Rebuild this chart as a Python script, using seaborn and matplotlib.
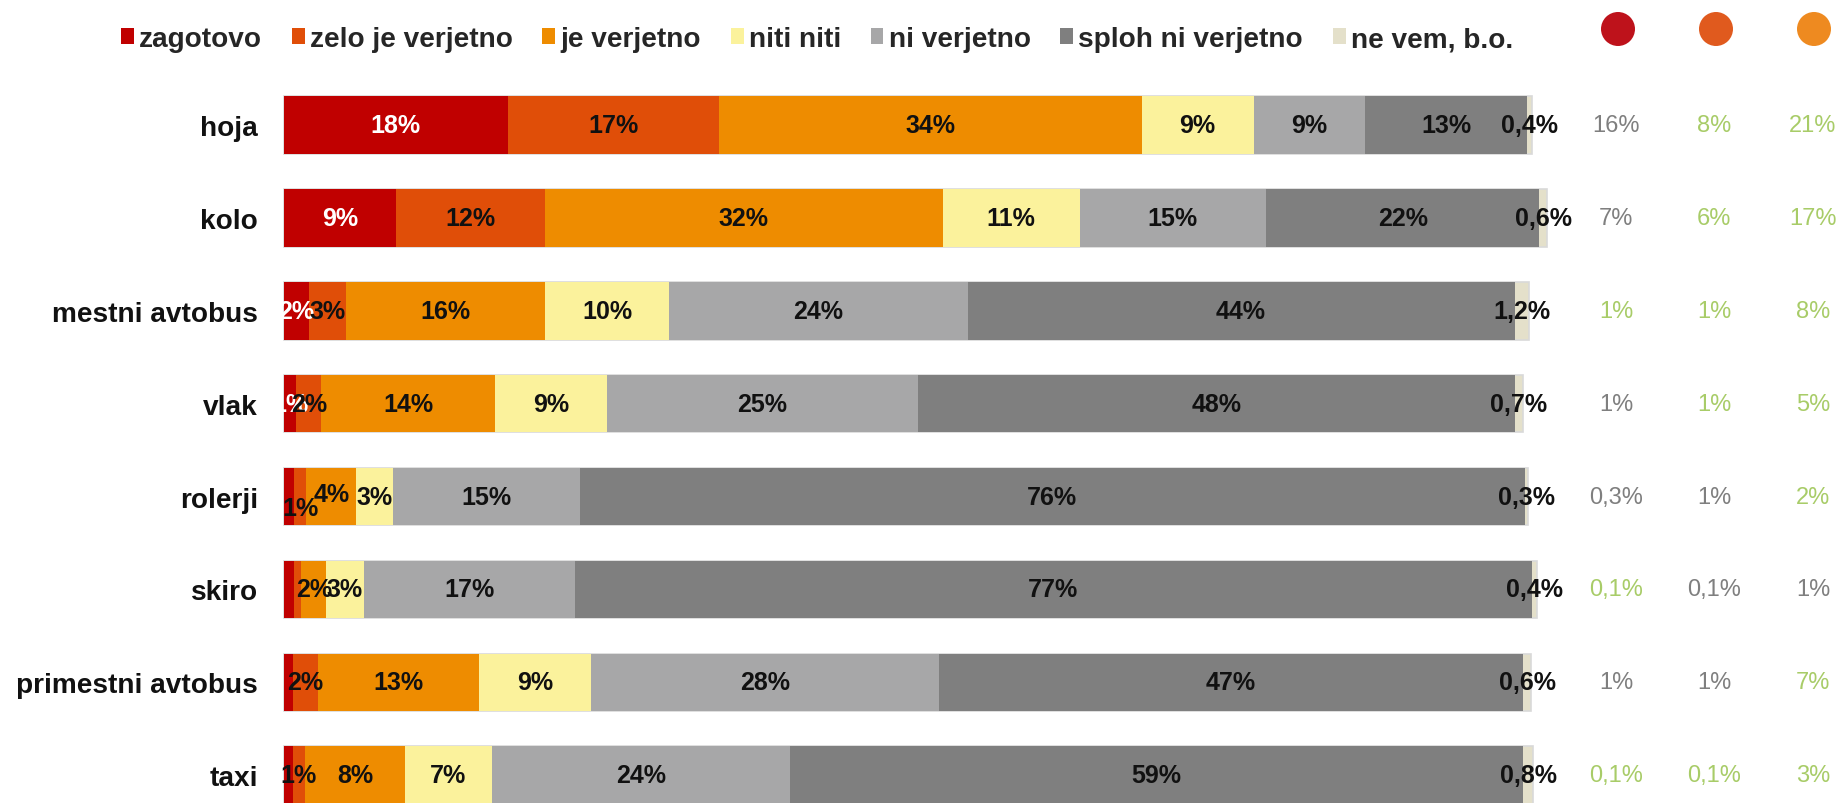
import matplotlib
matplotlib.use("Agg")
import matplotlib.pyplot as plt
import numpy as np
import pandas as pd
import seaborn as sns
from matplotlib.patches import Patch, Ellipse
from matplotlib.transforms import blended_transform_factory

# ---- data -------------------------------------------------------------
categories = ["hoja", "kolo", "mestni avtobus", "vlak", "rolerji", "skiro",
              "primestni avtobus", "taxi"]
answers = ["zagotovo", "zelo je verjetno", "je verjetno", "niti niti",
           "ni verjetno", "sploh ni verjetno", "ne vem, b.o."]

zagotovo = [18, 9, 2, 1, 0.8, 0.8, 0.7, 0.7]
zelo_je_verjetno = [17, 12, 3, 2, 1, 0.6, 2, 1]
je_verjetno = [34, 32, 16, 14, 4, 2, 13, 8]
niti_niti = [9, 11, 10, 9, 3, 3, 9, 7]
ni_verjetno = [9, 15, 24, 25, 15, 17, 28, 24]
sploh_ni_verjetno = [13, 22, 44, 48, 76, 77, 47, 59]
ne_vem = [0.4, 0.6, 1.2, 0.7, 0.3, 0.4, 0.6, 0.8]

# side columns (three subgroups) and whether each cell is highlighted
group_a = [16, 7, 1, 1, 0.3, 0.1, 1, 0.1]
group_b = [8, 6, 1, 1, 1, 0.1, 1, 0.1]
group_c = [21, 17, 8, 5, 2, 1, 7, 3]
highlight_a = [False, False, True, False, False, True, False, True]
highlight_b = [True, True, True, True, False, False, False, True]
highlight_c = [True, True, True, True, True, False, True, True]

# ---- styling ----------------------------------------------------------
colors = ["#C00000", "#E04E08", "#EE8C00", "#FBF29C", "#A7A7A8", "#7F7F7F", "#E4E0CA"]
label_colors = ["white", "#111111", "#111111", "#111111", "#111111", "#111111", "#111111"]
dot_colors = ["#BE121B", "#E05A1E", "#EE8A20"]
green = "#A8CC68"
grey_txt = "#7F7F7F"

sns.set_theme(style="white")
plt.rcParams["font.family"] = ["Liberation Sans", "DejaVu Sans"]

W, H = 1839, 804
fig = plt.figure(figsize=(W / 100, H / 100), dpi=100)
ax = fig.add_axes([284 / W, -0.0233, 1243 / W, 0.9244])

series = [zagotovo, zelo_je_verjetno, je_verjetno, niti_niti,
          ni_verjetno, sploh_ni_verjetno, ne_vem]
df = pd.DataFrame({a: s for a, s in zip(answers, series)}, index=categories)
cum = df.cumsum(axis=1)

# stacked bars: draw the cumulative totals from longest to shortest
for k in range(len(answers) - 1, -1, -1):
    sns.barplot(x=cum.iloc[:, k].values, y=categories, orient="h",
                color=colors[k], saturation=1, width=0.62, ax=ax,
                linewidth=1.2 if k == len(answers) - 1 else 0,
                edgecolor="#D9D9D9" if k == len(answers) - 1 else colors[k])

for p in ax.patches:
    p.set_clip_on(False)

def fmt(v, decimals=False):
    if decimals or v < 1:
        return f"{v:.1f}".replace(".", ",") + "%"
    return f"{v:.0f}%"

nudge = {(4, 1): 0.12, (4, 2): -0.03}
for i, cat in enumerate(categories):
    left = 0.0
    for k, a in enumerate(answers):
        v = df.loc[cat, a]
        last = k == len(answers) - 1
        if v >= 1 or last:
            ax.text(left + v / 2, i + nudge.get((i, k), 0), fmt(v, last),
                    ha="center", va="center", fontsize=18, fontweight="bold",
                    color=label_colors[k], clip_on=False)
        left += v

ax.set_xlim(0, 100)
ax.set_ylim(7.5, -0.5)
ax.set_xlabel("")
ax.set_ylabel("")
ax.set_xticks([])
ax.set_yticks(range(len(categories)))
ax.set_yticklabels(categories, fontsize=20.2, fontweight="bold", color="#111111")
ax.tick_params(axis="y", length=0, pad=18.7)
for s in ax.spines.values():
    s.set_visible(False)
ax.set_facecolor("none")

# side columns
tr = blended_transform_factory(fig.transFigure, ax.transData)
col_x = [1616 / W, 1714 / W, 1813 / W]
for cx, vals, hl in zip(col_x, [group_a, group_b, group_c],
                        [highlight_a, highlight_b, highlight_c]):
    for i, (v, h) in enumerate(zip(vals, hl)):
        fig.text(cx, i, fmt(v), transform=tr, ha="center", va="center",
                 fontsize=17, color=green if h else grey_txt)

# coloured dots heading the side columns
for dx, c in zip([1618, 1716, 1814], dot_colors):
    fig.add_artist(Ellipse((dx / W, 1 - 30 / H), 34 / W, 34 / H,
                           transform=fig.transFigure, facecolor=c,
                           edgecolor="none"))

# legend
handles = [Patch(facecolor=c, edgecolor="none", label=a) for c, a in zip(colors, answers)]
fig.legend(handles=handles, loc="center", bbox_to_anchor=(817 / W, 1 - 40 / H),
           ncol=7, frameon=False,
           prop={"weight": "bold", "size": 20.2},
           handlelength=0.46, handleheight=0.5, handletextpad=0.18,
           columnspacing=1.06, borderpad=0, borderaxespad=0)

fig.savefig("out.png", dpi=100, facecolor="white")
